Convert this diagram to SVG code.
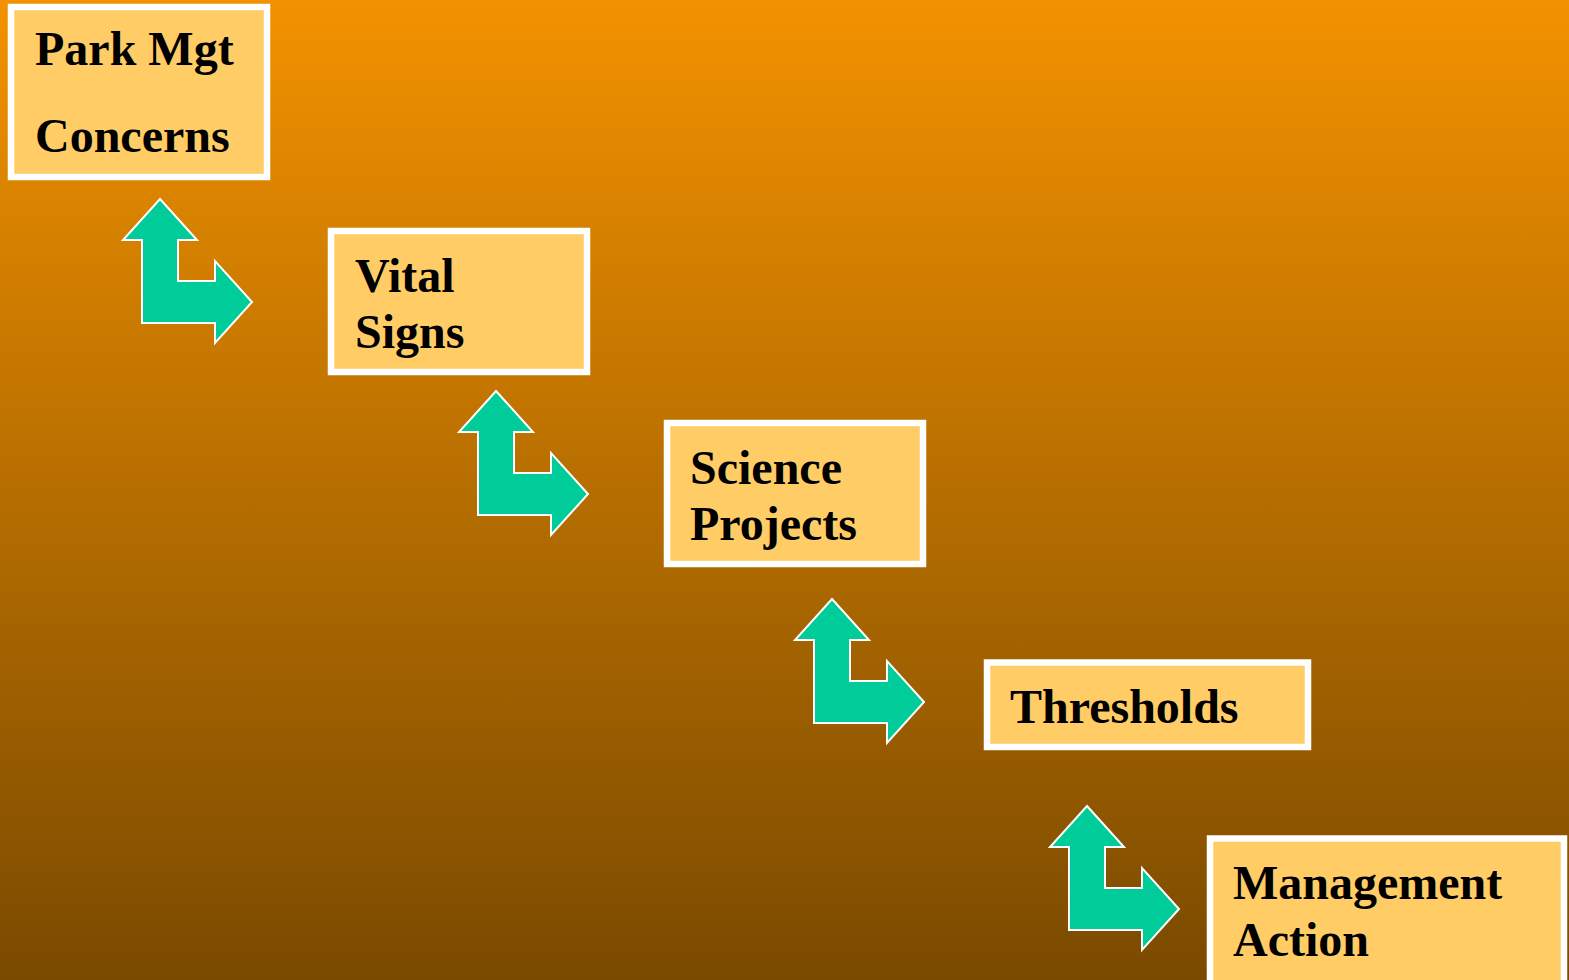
<svg xmlns="http://www.w3.org/2000/svg" width="1569" height="980" viewBox="0 0 1569 980">
<defs>
<linearGradient id="bg" x1="0" y1="0" x2="0" y2="1">
<stop offset="0" stop-color="#F39200"/>
<stop offset="1" stop-color="#7A4A00"/>
</linearGradient>
<polygon id="arr" points="160,199 197,240 178,240 178,281 215,281 215,261 252,302 215,343 215,323 142,323 142,240 123,240"/>
</defs>
<style>
.box{fill:#FFCC66;stroke:#FFFFFF;stroke-width:6.5}
.lbl{font-family:"Liberation Serif","Times New Roman",serif;font-weight:bold;font-size:48px;fill:#000}
.arrow{fill:#00CC99;stroke:#FFFFFF;stroke-width:2;stroke-linejoin:miter}
</style>
<rect x="0" y="0" width="1569" height="980" fill="url(#bg)"/>
<g id="connectors">
<use href="#arr" class="arrow"/>
<use href="#arr" class="arrow" transform="translate(336,192)"/>
<use href="#arr" class="arrow" transform="translate(672,400)"/>
<use href="#arr" class="arrow" transform="translate(927,607)"/>
</g>
<g id="park">
<rect class="box" x="11" y="7" width="256" height="170"/>
<text class="lbl" x="35" y="65">Park Mgt</text>
<text class="lbl" x="35" y="152">Concerns</text>
</g>
<g id="vital">
<rect class="box" x="331" y="231" width="256" height="141"/>
<text class="lbl" x="355" y="292">Vital</text>
<text class="lbl" x="355" y="348">Signs</text>
</g>
<g id="science">
<rect class="box" x="667" y="423" width="256" height="141"/>
<text class="lbl" x="690" y="484">Science</text>
<text class="lbl" x="690" y="540">Projects</text>
</g>
<g id="thresholds">
<rect class="box" x="987" y="662.5" width="321" height="84.5"/>
<text class="lbl" x="1010" y="723">Thresholds</text>
</g>
<g id="management">
<rect class="box" x="1210" y="838.5" width="354" height="150"/>
<text class="lbl" x="1233" y="899">Management</text>
<text class="lbl" x="1233" y="956">Action</text>
</g>
</svg>
